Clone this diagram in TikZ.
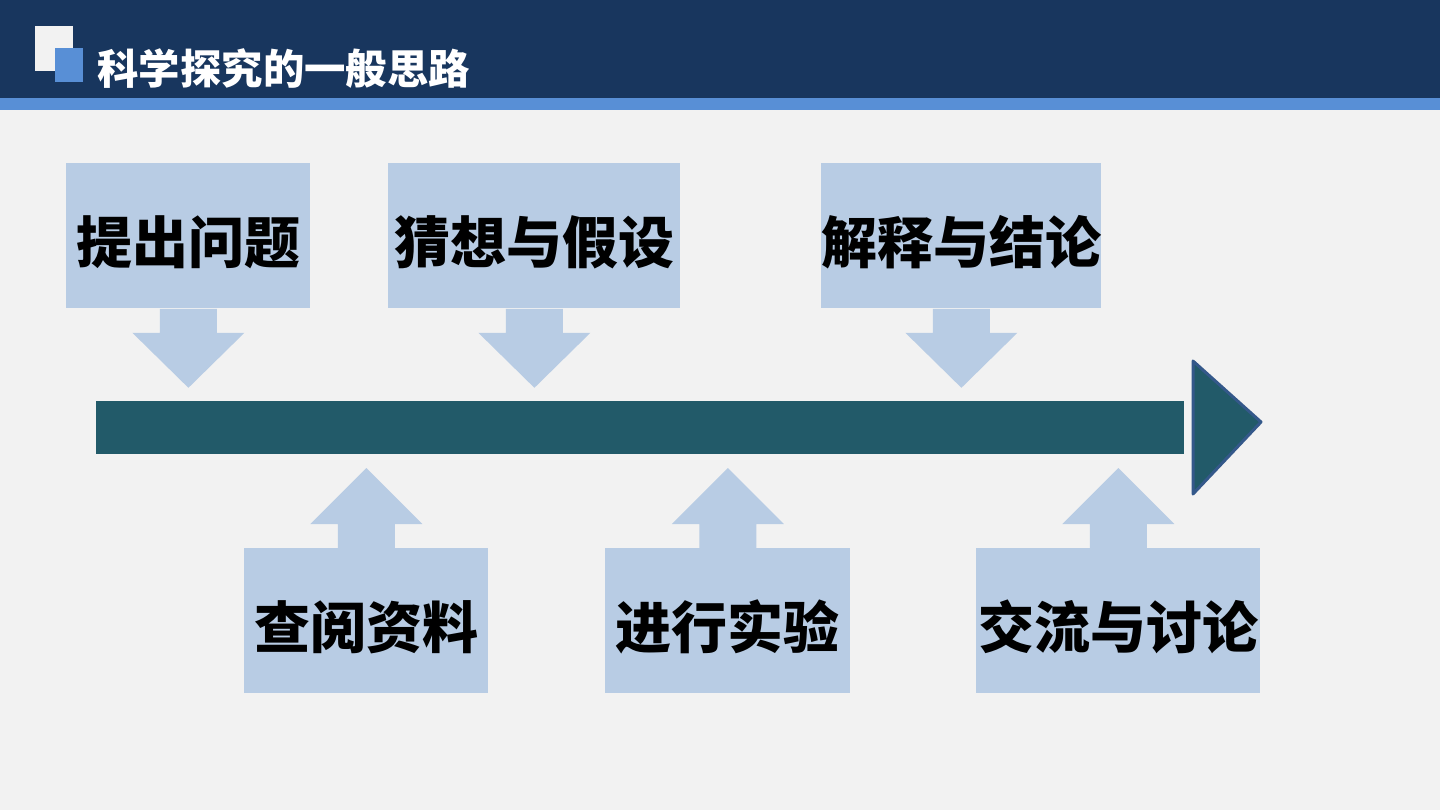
\documentclass[tikz,border=0pt]{standalone}
\usepackage{fontspec}
\newfontfamily\cjk{Noto Sans CJK SC}
\usetikzlibrary{positioning}
\definecolor{fondo}{RGB}{242,242,242}
\definecolor{marino}{RGB}{24,54,94}
\definecolor{franja}{RGB}{88,143,214}
\definecolor{celeste}{RGB}{184,204,228}
\definecolor{verdeazul}{RGB}{34,90,105}
\definecolor{borde}{RGB}{52,88,138}
\tikzset{
  caja/.style={fill=celeste, inner sep=0pt, minimum height=72.5pt, anchor=north west,
    text height=30.6pt, text depth=3.4pt,
    font=\cjk\bfseries\fontsize{28pt}{30pt}\selectfont},
  paso/.style={fill=celeste}
}
\begin{document}
\begin{tikzpicture}[x=0.5pt, y=-0.5pt, line join=round]
      \useasboundingbox (0,0) rectangle (1440,810);
      \fill[fondo] (0,0) rectangle (1440,810);
      % cabecera
      \fill[marino] (0,0) rectangle (1440,98);
      \fill[franja] (0,98) rectangle (1440,110);
      \fill[fondo] (35,26) rectangle (73,71);
      \fill[franja] (55,48) rectangle (83,82);
      \node[font=\cjk\bfseries\fontsize{20.7pt}{23pt}\selectfont, text=white, anchor=west, inner sep=0pt]
        (titulo) at (97,69) {科学探究的一般思路};
      % cajas de arriba
      \node[caja, minimum width=122pt] (preg) at (66,163) {提出问题};
      \node[caja, minimum width=146pt] (hipo) at (388,163) {猜想与假设};
      \node[caja, minimum width=139.5pt] (conc) at (821,163) {解释与结论};
      % cajas de abajo
      \node[caja, minimum width=122pt] (info) at (244,548) {查阅资料};
      \node[caja, minimum width=122.5pt] (expe) at (605,548) {进行实验};
      \node[caja, minimum width=142pt] (comu) at (976,548) {交流与讨论};
      % flechas
      \foreach \n in {preg,hipo,conc}
        \fill[paso] (\n.south) ++(-14.25pt,0pt) -- ++(0pt,-12pt) -- ++(-13.75pt,0pt)
          -- ++(28pt,-27.5pt) -- ++(28pt,27.5pt) -- ++(-13.75pt,0pt) -- ++(0pt,12pt) -- cycle;
      \foreach \n in {info,expe,comu}
        \fill[paso] (\n.north) ++(-14.25pt,0pt) -- ++(0pt,12pt) -- ++(-13.75pt,0pt)
          -- ++(28pt,28pt) -- ++(28pt,-28pt) -- ++(-13.75pt,0pt) -- ++(0pt,-12pt) -- cycle;
      % eje del proceso
      \fill[verdeazul] (96,401) rectangle (1184,454);
      \draw[fill=verdeazul, draw=borde, line width=1.5pt] (1193,361) -- (1261,422) -- (1193,494) -- cycle;
    \end{tikzpicture}
\end{document}
